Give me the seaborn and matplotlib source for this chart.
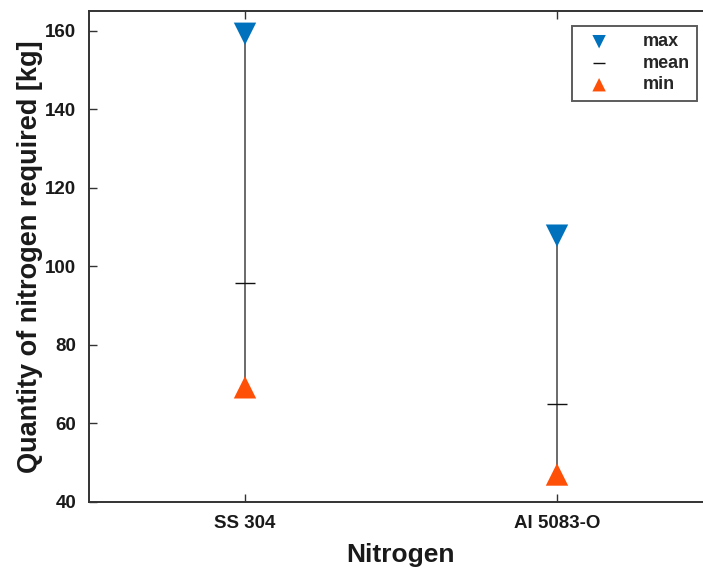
import matplotlib
matplotlib.use("Agg")
import matplotlib.pyplot as plt
import seaborn as sns
import pandas as pd

categories = ["SS 304", "Al 5083-O"]
max_vals = [159.2, 107.8]
mean_vals = [95.8, 65.0]
min_vals = [69.2, 47.0]

sns.set_style("white")
plt.rcParams['font.family'] = ['Liberation Sans', 'DejaVu Sans']

df = pd.DataFrame({"cat": categories, "pos": [1, 2], "max": max_vals,
                   "mean": mean_vals, "min": min_vals})

fig = plt.figure(figsize=(7.03, 5.72), dpi=100)
ax = fig.add_axes([89/703, 70/572, 624/703, 491/572])

ax.vlines(df["pos"], df["min"], df["max"], color="#6a6a6a", lw=1.4, zorder=1)
sns.scatterplot(data=df, x="pos", y="max", marker="v", s=260, color="#0072BD",
                edgecolor="none", ax=ax, label="max", zorder=3)
sns.scatterplot(data=df, x="pos", y="mean", marker="_", s=220, color="#111111",
                linewidth=1.0, ax=ax, label="mean", zorder=3)
sns.scatterplot(data=df, x="pos", y="min", marker="^", s=260, color="#FF5008",
                edgecolor="none", ax=ax, label="min", zorder=3)

ax.set_xlim(0.5, 2.5)
ax.set_ylim(40, 165)
ax.set_xticks([1, 2])
ax.set_xticklabels(categories)
ax.set_yticks([40, 60, 80, 100, 120, 140, 160])
ax.tick_params(direction="in", length=6, width=1, top=True, right=True,
               bottom=True, left=True, labelsize=13.5, pad=9, color="#333333")
for lab in ax.get_xticklabels() + ax.get_yticklabels():
    lab.set_fontweight("bold")
    lab.set_color("#1a1a1a")
ax.set_xlabel("Nitrogen", fontsize=19, fontweight="bold", labelpad=8, color="#1a1a1a")
ax.set_ylabel("Quantity of nitrogen required [kg]", fontsize=19.5, fontweight="bold",
              labelpad=2, color="#1a1a1a")
for sp in ax.spines.values():
    sp.set_visible(True)
    sp.set_color("#333333")
    sp.set_linewidth(1.4)

leg = ax.legend(loc="upper right", bbox_to_anchor=(0.974, 0.969), borderaxespad=0,
                frameon=True, fancybox=False, edgecolor="#333333",
                prop={"weight": "bold", "size": 13}, handletextpad=1.3,
                borderpad=0.4, labelspacing=0.25, markerscale=0.6, handlelength=2.2)
leg.get_frame().set_linewidth(1.4)

fig.savefig("out.png", dpi=100)
